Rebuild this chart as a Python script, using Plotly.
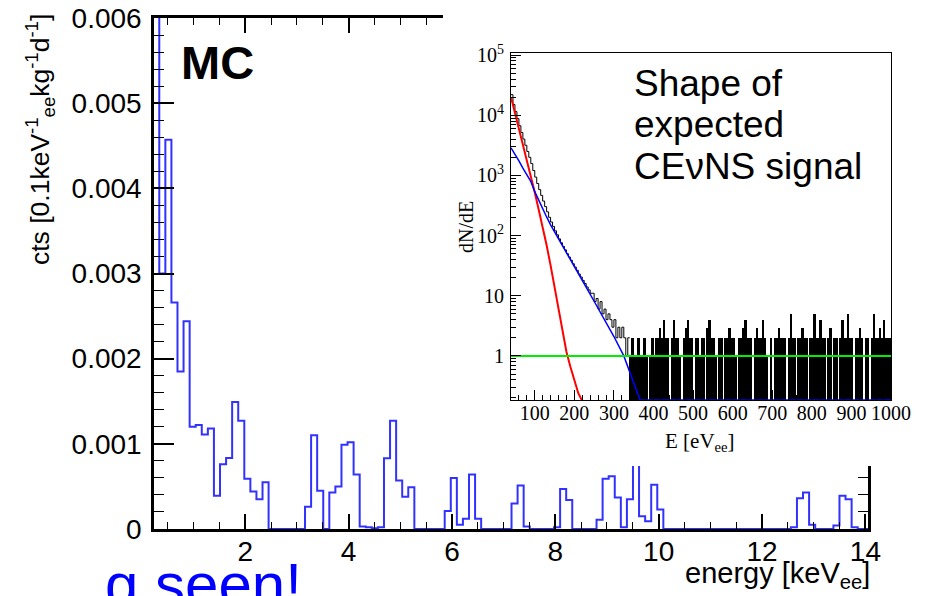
import plotly.graph_objects as go

W, H = 925, 596
SANS = "Liberation Sans, Arial, Helvetica, sans-serif"
SERIF = "Liberation Serif, Times New Roman, serif"

# ---------------- main histogram (MC) ----------------
bin_lo = 0.2205      # keV, lower edge of first bin
bin_width = 0.1175   # keV
# counts per bin in units of 1e-3 cts [0.1 keV^-1 kg^-1 d^-1]
counts_milli = [6.8, 3.0, 4.57, 2.66, 1.85, 2.44, 1.20, 1.22, 1.11, 1.18,
                0.39, 0.76, 0.835, 1.49, 1.27, 0.59, 0.44, 0.35, 0.55, 0,
                0, 0, 0, 0, 0, 0.26, 1.10, 0.45, 0, 0.43,
                0.50, 0.99, 1.02, 0.64, 0.03, 0.02, 0.01, 0.02, 0.83, 1.27,
                0.57, 0.38, 0.49, 0, 0, 0, 0, 0, 0.21, 0.60,
                0.05, 0.12, 0.64, 0.12, 0, 0, 0, 0, 0, 0.30,
                0.51, 0.03, 0, 0, 0, 0, 0.02, 0.47, 0.34, 0,
                0, 0, 0, 0.11, 0.59, 0.62, 0.37, 0.02, 0.35, 0.85,
                0.15, 0.09, 0.52, 0.23, 0, 0, 0, 0, 0, 0,
                0, 0, 0, 0, 0, 0, 0, 0, 0, 0,
                0, 0, 0, 0, 0, 0.02, 0.36, 0.43, 0.05, 0,
                0, 0, 0.04, 0.39, 0.35, 0.02, 0, 0]

# ---------------- inset: expected CEvNS signal shape ----------------
red_E = [40, 50, 60, 70, 80, 90, 100, 110, 120, 130, 140, 150, 160, 170, 180,
         190, 200, 210, 220]
red_val = [2.0e4, 1.1e4, 5.9e3, 3.2e3, 1.78e3, 1.0e3, 525, 269, 141, 69, 32,
           14.5, 6.5, 2.75, 1.17, 0.66, 0.38, 0.24, 0.178]

blue_E = [40, 50, 60, 70, 80, 90, 100, 110, 120, 130, 140, 150, 175, 200, 225,
          250, 275, 300, 325, 350, 366, 380, 1000]
blue_val = [2880, 2290, 1740, 1320, 1020, 794, 537, 380, 275, 204, 151, 115, 59,
            31, 15.8, 8.1, 4.2, 2.1, 1.0, 0.35, 0.18, 0.18, 0.18]

green_E = [40, 1000]
green_val = [1.0, 1.0]

# black total histogram, 5 eV bins
blk_lo = 40
blk_width = 5
black_smooth = [22000, 15100, 11500, 8800, 6700, 5170, 4020, 3170, 2500, 2000,
                1575, 1206, 938, 734, 581, 466, 375, 303, 248, 201,
                168, 142, 120, 103, 88, 76, 66, 58, 50, 44,
                39, 34, 30, 26.5, 23, 20.5, 18, 16, 14, 12.5,
                11, 11, 8, 9, 6, 8, 5, 6, 4, 5,
                4, 3, 4, 2, 3, 2, 3, 2, 1, 2]            # 40 .. 340 eV
black_noisy = [1, 2, 1, 1, 2, 1, 1, 2, 1, 0,
               1, 2, 1, 2, 2, 3, 2, 4, 2, 2,
               0, 2, 4, 2, 2, 1, 0, 2, 3, 4,
               2, 2, 0, 2, 2, 1, 2, 2, 0, 3,
               4, 2, 2, 1, 0, 2, 2, 0, 2, 2,
               3, 2, 2, 1, 0, 2, 2, 3, 4, 2,
               2, 2, 0, 2, 3, 2, 2, 4, 2, 1,
               0, 2, 0, 2, 2, 3, 2, 2, 2, 0,
               2, 5, 2, 2, 0, 2, 2, 3, 2, 2,
               0, 2, 2, 5, 2, 2, 4, 2, 2, 0,
               2, 3, 0, 2, 2, 0, 2, 4, 2, 2,
               5, 2, 2, 0, 2, 2, 3, 2, 0, 2,
               2, 0, 2, 5, 2, 2, 3, 2, 4, 2,
               2, 2]                                   # 340 .. 1000 eV

inset_ytick_vals = [1, 10, 100, 1000, 1e4, 1e5]
inset_ytick_text = ["1", "10", "10<sup>2</sup>", "10<sup>3</sup>",
                    "10<sup>4</sup>", "10<sup>5</sup>"]

# ---------------- helpers ----------------
def px(x):
    return x / W


def py(y):
    return 1 - y / H


fig = go.Figure()

# main histogram as step outline
edges = [bin_lo + k * bin_width for k in range(len(counts_milli) + 1)]
vals = [c * 1e-3 for c in counts_milli]
fig.add_trace(go.Scatter(x=edges, y=vals + [vals[-1]], mode="lines",
                         line=dict(color="rgb(50,50,255)", width=2, shape="hv"),
                         xaxis="x", yaxis="y", hoverinfo="skip", showlegend=False))

# white cover behind inset
fig.add_trace(go.Scatter(x=[0, 1, 1, 0, 0], y=[0, 0, 1, 1, 0], mode="lines",
                         fill="toself", fillcolor="white", line=dict(width=0),
                         xaxis="x2", yaxis="y2", hoverinfo="skip", showlegend=False))

# inset traces
floor = 10 ** -0.733
nz = len(black_noisy)
noisy_x = [blk_lo + (len(black_smooth) + i + 0.5) * blk_width for i in range(nz)]
fig.add_trace(go.Bar(x=noisy_x, y=[v if v > 0 else None for v in black_noisy],
                     width=blk_width, marker=dict(color="black", line=dict(width=0)),
                     xaxis="x3", yaxis="y3", hoverinfo="skip", showlegend=False))
sm_edges = [blk_lo + k * blk_width for k in range(len(black_smooth) + 1)]
fig.add_trace(go.Scatter(x=sm_edges, y=black_smooth + [black_smooth[-1]], mode="lines",
                         line=dict(color="black", width=1, shape="hv"),
                         xaxis="x3", yaxis="y3", hoverinfo="skip", showlegend=False))
fig.add_trace(go.Scatter(x=red_E, y=red_val, mode="lines",
                         line=dict(color="#ff0000", width=2),
                         xaxis="x3", yaxis="y3", hoverinfo="skip", showlegend=False))
fig.add_trace(go.Scatter(x=blue_E, y=[max(v, floor) for v in blue_val], mode="lines",
                         line=dict(color="#0000ff", width=1.5),
                         xaxis="x3", yaxis="y3", hoverinfo="skip", showlegend=False))
fig.add_trace(go.Scatter(x=green_E, y=green_val, mode="lines",
                         line=dict(color="#00ee00", width=2),
                         xaxis="x3", yaxis="y3", hoverinfo="skip", showlegend=False))

minor_log = [m * 10 ** d for d in range(-1, 5) for m in range(2, 10)]

fig.update_layout(
    width=W, height=H,
    margin=dict(l=0, r=0, t=0, b=0, autoexpand=False),
    paper_bgcolor="white", plot_bgcolor="white",
    showlegend=False,
    xaxis=dict(domain=[px(154), px(868)], range=[0.236, 14.05], automargin=False,
               showline=True, linecolor="black", linewidth=2.5, mirror="ticks",
               ticks="inside", ticklen=15, tickwidth=1.5, tickcolor="black",
               tick0=0, dtick=2, showgrid=False, zeroline=False,
               tickfont=dict(family=SANS, size=28, color="black"),
               ticklabelstandoff=-4,
               minor=dict(ticks="inside", ticklen=7, tickwidth=1.2,
                          tickcolor="black", tick0=0, dtick=0.5, showgrid=False),
               anchor="y"),
    yaxis=dict(domain=[py(529), py(18)], range=[0, 0.006], automargin=False,
               showline=True, linecolor="black", linewidth=2.5, mirror="ticks",
               ticks="inside", ticklen=20, tickwidth=1.5, tickcolor="black",
               tick0=0, dtick=0.001, showgrid=False, zeroline=False,
               tickfont=dict(family=SANS, size=28, color="black"),
               ticklabelstandoff=4,
               minor=dict(ticks="inside", ticklen=10, tickwidth=1.2,
                          tickcolor="black", tick0=0, dtick=0.0002, showgrid=False),
               anchor="x"),
    xaxis2=dict(domain=[px(443), 1], range=[0, 1], visible=False, anchor="y2",
                automargin=False),
    yaxis2=dict(domain=[py(466), 1], range=[0, 1], visible=False, anchor="x2",
                automargin=False),
    xaxis3=dict(domain=[px(511), px(891)], range=[40, 1000], automargin=False,
                showline=True, linecolor="black", linewidth=1, mirror=True,
                ticks="inside", ticklen=10, tickwidth=1, tickcolor="black",
                tick0=0, dtick=100, showgrid=False, zeroline=False,
                tickfont=dict(family=SERIF, size=20, color="black"),
                ticklabelstandoff=-5,
                minor=dict(ticks="inside", ticklen=5, tickwidth=1,
                           tickcolor="black", tick0=0, dtick=20, showgrid=False),
                anchor="y3"),
    yaxis3=dict(type="log", domain=[py(400), py(52.7)], range=[-0.733, 5.04],
                automargin=False,
                showline=True, linecolor="black", linewidth=1, mirror=True,
                ticks="inside", ticklen=10, tickwidth=1, tickcolor="black",
                tickmode="array", tickvals=inset_ytick_vals, ticktext=inset_ytick_text,
                showgrid=False, zeroline=False,
                tickfont=dict(family=SERIF, size=20, color="black"),
                ticklabelstandoff=2,
                minor=dict(ticks="inside", ticklen=5, tickwidth=1, tickcolor="black",
                           tickmode="array", tickvals=minor_log, showgrid=False),
                anchor="x3"),
    bargap=0,
)

ann = [
    dict(text="<b>MC</b>", x=px(179), y=py(62), xanchor="left", yanchor="middle",
         font=dict(family=SANS, size=47, color="black")),
    dict(text="cts [0.1keV<sup>-1</sup><sub>ee</sub>kg<sup>-1</sup>d<sup>-1</sup>]",
         x=px(40), y=py(140), xanchor="center", yanchor="middle", textangle=-90,
         font=dict(family=SANS, size=26.5, color="black")),
    dict(text="energy [keV<sub>ee</sub>]", x=px(872), y=py(575), xanchor="right",
         yanchor="middle", font=dict(family=SANS, size=29, color="black")),
    dict(text="Shape of", x=px(632), y=py(83), xanchor="left", yanchor="middle",
         font=dict(family=SANS, size=37, color="black")),
    dict(text="expected", x=px(632), y=py(124.5), xanchor="left", yanchor="middle",
         font=dict(family=SANS, size=37, color="black")),
    dict(text="CE\u03bdNS signal", x=px(632), y=py(166), xanchor="left",
         yanchor="middle", font=dict(family=SANS, size=37, color="black")),
    dict(text="dN/dE", x=px(466), y=py(227), xanchor="center", yanchor="middle",
         textangle=-90, font=dict(family=SERIF, size=20, color="black")),
    dict(text="E [eV<sub>ee</sub>]", x=px(700), y=py(442), xanchor="center",
         yanchor="middle", font=dict(family=SERIF, size=21, color="black")),
    dict(text="g seen!", x=px(103), y=py(549), xanchor="left", yanchor="top",
         font=dict(family=SANS, size=60, color="#0000ff")),
]
for a in ann:
    a.update(xref="paper", yref="paper", showarrow=False)
fig.update_layout(annotations=ann)

fig.write_html("out.html")
